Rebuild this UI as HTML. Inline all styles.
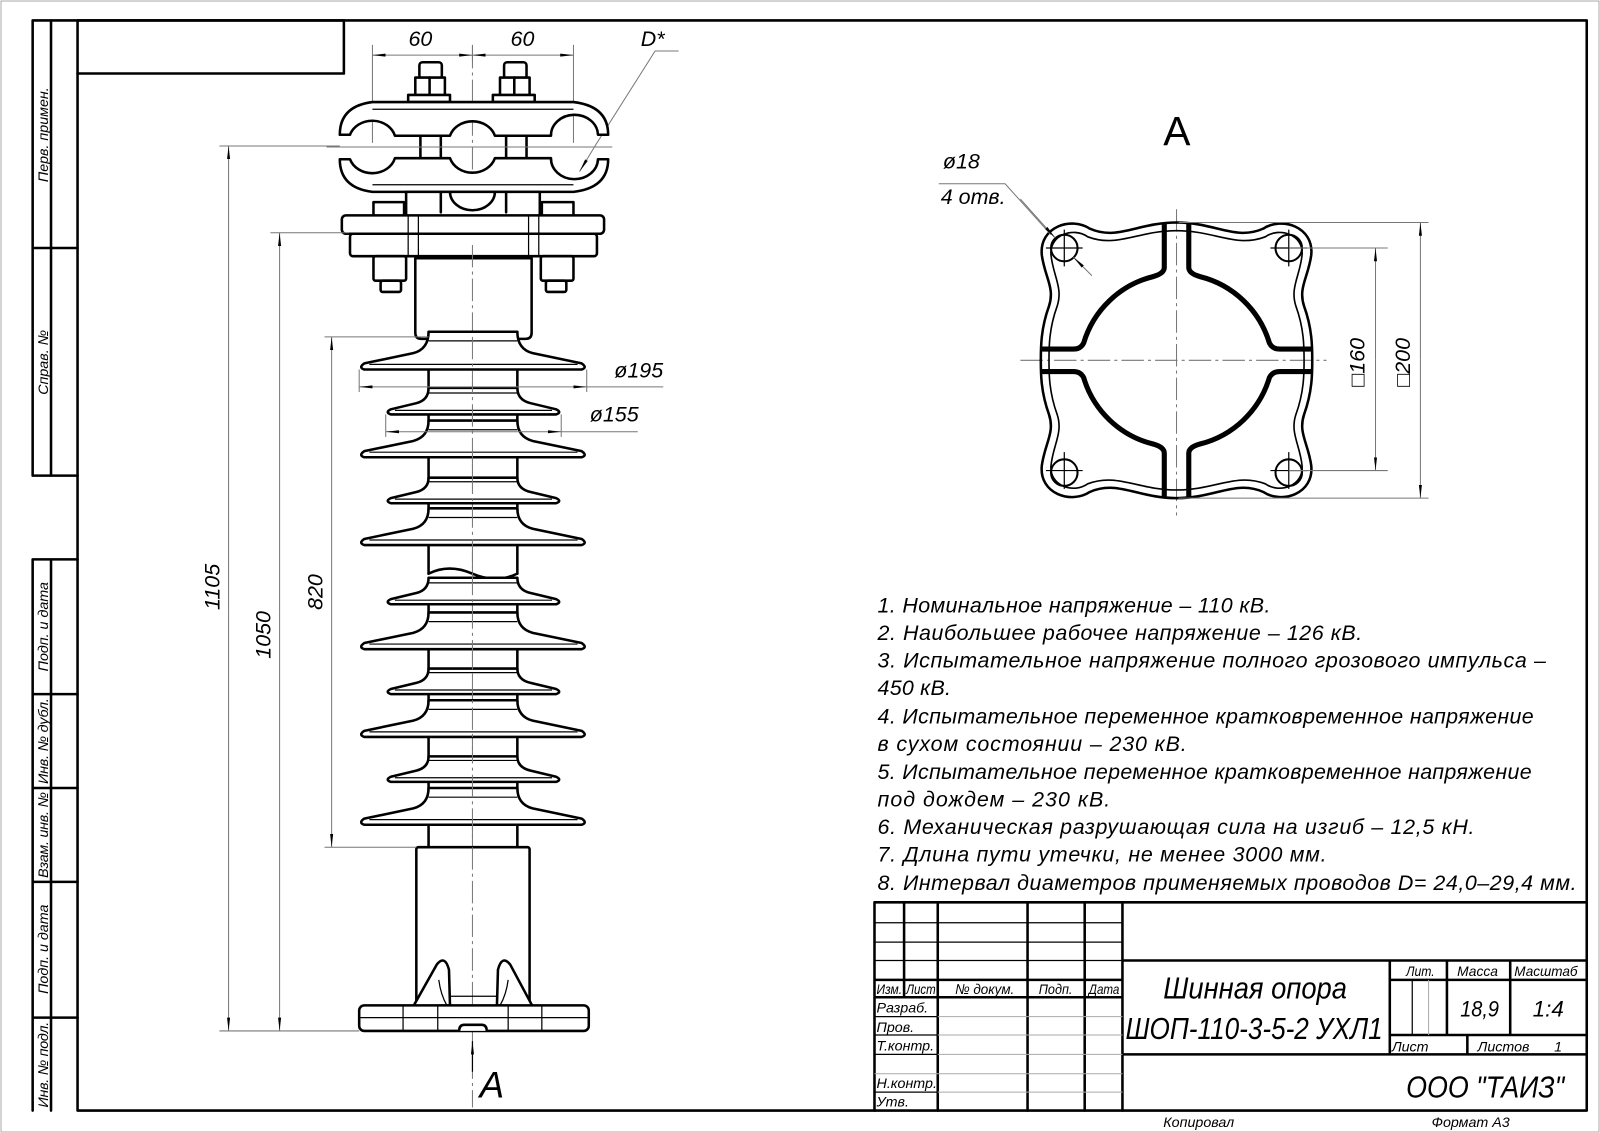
<!DOCTYPE html>
<html><head><meta charset="utf-8"><style>
html,body{margin:0;padding:0;background:#fff}
svg{display:block}
text{font-family:"Liberation Sans Narrow","Liberation Sans","DejaVu Sans",sans-serif;font-style:italic;fill:#000}
.k{stroke:#000;fill:none;stroke-width:2.5;stroke-linejoin:round;stroke-linecap:round}
.w{stroke:#000;fill:#fff;stroke-width:2.5;stroke-linejoin:round}
.t{stroke:#000;fill:none;stroke-width:1.2}
.d{stroke:#777;fill:none;stroke-width:1}
.c{stroke:#777;fill:none;stroke-width:1;stroke-dasharray:22 4 3 4}
.g{stroke:#aaa;fill:none;stroke-width:1}
.th{stroke:#000;fill:none;stroke-width:5;stroke-linejoin:round;stroke-linecap:round}
.tn{stroke:#000;fill:none;stroke-width:1.6;stroke-linejoin:round}
</style></head><body>
<svg width="1600" height="1133" viewBox="0 0 1568 1110" preserveAspectRatio="none" xmlns="http://www.w3.org/2000/svg">
<defs>
<marker id="a" markerWidth="14" markerHeight="6" refX="13" refY="3" orient="auto" markerUnits="userSpaceOnUse"><path d="M0,1.5 L13,3 L0,4.5Z" fill="#000"/></marker>
</defs>
<rect x="1" y="1" width="1566" height="1108" class="g"/>
<!-- frame -->
<path class="k" d="M76,20 H1555 V1088 H76 Z"/>
<path class="k" d="M76,20 H337 V72 H76"/>
<path class="k" d="M76,20 H32 V466 H76 M50,20 V466 M32,243 H76"/>
<path class="k" d="M76,548 H32 V1088 M50,548 V1088 M32,680 H76 M32,772 H76 M32,864 H76 M32,997 H76"/>
<g font-size="14">
<text transform="translate(47,132) rotate(-90)" text-anchor="middle">Перв. примен.</text>
<text transform="translate(47,355) rotate(-90)" text-anchor="middle">Справ. №</text>
<text transform="translate(47,614) rotate(-90)" text-anchor="middle">Подп. и дата</text>
<text transform="translate(47,726) rotate(-90)" text-anchor="middle" textLength="84">Инв. № дубл.</text>
<text transform="translate(47,818) rotate(-90)" text-anchor="middle" textLength="84">Взам. инв. №</text>
<text transform="translate(47,930) rotate(-90)" text-anchor="middle">Подп. и дата</text>
<text transform="translate(47,1043) rotate(-90)" text-anchor="middle" textLength="84">Инв. № подл.</text>
</g>

<!-- centre line -->
<line class="c" x1="463" y1="45" x2="463" y2="1085"/>
<!-- dims top -->
<path class="d" d="M365,44 V140 M463,44 V60 M562,44 V140"/>
<line class="d" x1="414" y1="54" x2="365" y2="54" marker-end="url(#a)"/>
<line class="d" x1="414" y1="54" x2="463" y2="54" marker-end="url(#a)"/>
<line class="d" x1="512" y1="54" x2="463" y2="54" marker-end="url(#a)"/>
<line class="d" x1="512" y1="54" x2="562" y2="54" marker-end="url(#a)"/>
<text x="412" y="45" font-size="21" text-anchor="middle">60</text>
<text x="512" y="45" font-size="21" text-anchor="middle">60</text>
<text x="628" y="45" font-size="21">D*</text>
<path class="d" d="M665,50 H642 L585,140"/>
<line class="d" x1="585" y1="140" x2="568" y2="168" marker-end="url(#a)"/>
<!-- nuts top -->
<g>
<rect class="w" x="411" y="61" width="22" height="16" rx="3"/>
<rect class="w" x="407" y="76" width="29" height="18"/><line class="k" x1="421" y1="76" x2="421" y2="94"/>
<rect class="w" x="400" y="93" width="41" height="7"/>
<rect class="w" x="494" y="61" width="22" height="16" rx="3"/>
<rect class="w" x="490" y="76" width="29" height="18"/><line class="k" x1="504" y1="76" x2="504" y2="94"/>
<rect class="w" x="483" y="93" width="41" height="7"/>
</g>
<!-- clamp upper -->
<path class="w" d="M365,100 H562 Q596,104 596,132 L586,132 A23,20 0 0 0 540,133 H485 A23,20 0 0 0 441,133 H387 A23,20 0 0 0 343,132 L333,132 Q333,104 365,100Z"/>
<line class="t" x1="365" y1="107" x2="562" y2="107"/>
<!-- clamp lower -->
<path class="w" d="M365,188 H562 Q596,184 596,156 L586,156 A23,20 0 0 1 540,155 H485 A23,20 0 0 1 441,155 H387 A23,20 0 0 1 343,156 L333,156 Q333,184 365,188Z"/>
<line class="t" x1="365" y1="181" x2="562" y2="181"/>
<rect class="w" x="412" y="133" width="20" height="22"/>
<rect class="w" x="496" y="133" width="20" height="22"/>
<line class="d" x1="320" y1="144" x2="600" y2="144"/>
<!-- under clamp -->
<rect class="w" x="398" y="188" width="131" height="24"/>
<path class="k" d="M441,188 A22,18 0 0 0 485,188"/>
<path class="k" d="M432,188 V208 M496,188 V208"/>
<rect class="w" x="366" y="198" width="30" height="14"/>
<rect class="w" x="531" y="198" width="31" height="14"/>
<rect class="w" x="335" y="211" width="257" height="18" rx="4"/>
<rect class="w" x="343" y="229" width="242" height="22" rx="3"/>
<path class="t" d="M400,211 V251 M410,211 V251 M518,211 V251 M528,211 V251"/>
<!-- nuts below -->
<rect class="w" x="366" y="251" width="32" height="24" rx="2"/>
<rect class="w" x="373" y="275" width="20" height="11" rx="2"/>
<rect class="w" x="530" y="251" width="32" height="24" rx="2"/>
<rect class="w" x="535" y="275" width="20" height="11" rx="2"/>
<path class="w" d="M407,253 H521 V326 Q521,332 515,332 H413 Q407,332 407,326Z"/>
<line class="c" x1="463" y1="240" x2="463" y2="340"/>
<!-- neck -->
<path class="k" d="M420,332 V562 M507,332 V562 M420,578 V830 M507,578 V830"/>
<path class="k" d="M420,562 Q440,552 463,562 T507,562 M420,578 Q440,568 463,578 T507,578"/>
<!-- sheds -->
<g>
<path class="w" d="M420,325 Q420,342 405,346 L357,356 Q351,360 357,362 L570,362 Q576,360 570,356 L522,346 Q507,342 507,325Z"/><line class="t" x1="362" y1="357" x2="566" y2="357"/><line class="t" x1="420" y1="334" x2="507" y2="334"/>
<path class="w" d="M420,380 Q420,392 408,395 L383,401 Q377,404 383,406 L545,406 Q551,404 545,401 L520,395 Q507,392 507,380Z"/><line class="t" x1="387" y1="402" x2="541" y2="402"/><line class="t" x1="420" y1="385" x2="507" y2="385"/>
<path class="w" d="M420,412 Q420,428 405,432 L357,442 Q351,446 357,448 L570,448 Q576,446 570,442 L522,432 Q507,428 507,412Z"/><line class="t" x1="362" y1="443" x2="566" y2="443"/><line class="t" x1="420" y1="421" x2="507" y2="421"/>
<path class="w" d="M420,468 Q420,479 408,482 L383,488 Q377,491 383,493 L545,493 Q551,491 545,488 L520,482 Q507,479 507,468Z"/><line class="t" x1="387" y1="489" x2="541" y2="489"/><line class="t" x1="420" y1="472" x2="507" y2="472"/>
<path class="w" d="M420,498 Q420,514 405,518 L357,528 Q351,532 357,534 L570,534 Q576,532 570,528 L522,518 Q507,514 507,498Z"/><line class="t" x1="362" y1="529" x2="566" y2="529"/><line class="t" x1="420" y1="507" x2="507" y2="507"/>
<path class="w" d="M420,566 Q420,578 408,581 L383,587 Q377,590 383,592 L545,592 Q551,590 545,587 L520,581 Q507,578 507,566Z"/><line class="t" x1="387" y1="588" x2="541" y2="588"/><line class="t" x1="420" y1="571" x2="507" y2="571"/>
<path class="w" d="M420,600 Q420,616 405,620 L357,630 Q351,634 357,636 L570,636 Q576,634 570,630 L522,620 Q507,616 507,600Z"/><line class="t" x1="362" y1="631" x2="566" y2="631"/><line class="t" x1="420" y1="609" x2="507" y2="609"/>
<path class="w" d="M420,655 Q420,666 408,669 L383,675 Q377,678 383,680 L545,680 Q551,678 545,675 L520,669 Q507,666 507,655Z"/><line class="t" x1="387" y1="676" x2="541" y2="676"/><line class="t" x1="420" y1="659" x2="507" y2="659"/>
<path class="w" d="M420,686 Q420,702 405,706 L357,716 Q351,720 357,722 L570,722 Q576,720 570,716 L522,706 Q507,702 507,686Z"/><line class="t" x1="362" y1="717" x2="566" y2="717"/><line class="t" x1="420" y1="695" x2="507" y2="695"/>
<path class="w" d="M420,741 Q420,752 408,755 L383,761 Q377,764 383,766 L545,766 Q551,764 545,761 L520,755 Q507,752 507,741Z"/><line class="t" x1="387" y1="762" x2="541" y2="762"/><line class="t" x1="420" y1="745" x2="507" y2="745"/>
<path class="w" d="M420,772 Q420,788 405,792 L357,802 Q351,806 357,808 L570,808 Q576,806 570,802 L522,792 Q507,788 507,772Z"/><line class="t" x1="362" y1="803" x2="566" y2="803"/><line class="t" x1="420" y1="781" x2="507" y2="781"/>
</g>
<line class="c" x1="463" y1="330" x2="463" y2="830"/>
<!-- bottom tube -->
<rect class="w" x="408" y="830" width="111" height="160" rx="2"/>
<line class="c" x1="463" y1="830" x2="463" y2="1010"/>
<path class="w" d="M405,986 L428,945 Q436,935 440,950 L441,985Z M522,986 L500,945 Q492,935 488,950 L487,985Z"/>
<path class="t" d="M440,976 H488 M430,960 Q432,975 438,985 M498,960 Q496,975 490,985"/>
<rect class="w" x="352" y="985" width="225" height="25" rx="5"/>
<path class="t" d="M395,985 V1010 M429,985 V1010 M498,985 V1010 M531,985 V1010 M352,997 H577"/>
<path class="w" d="M450,1010 Q450,1004 455,1004 H472 Q477,1004 477,1010"/>
<line class="t" x1="463" y1="1050" x2="463" y2="1020" marker-end="url(#a)"/>
<text x="470" y="1075" font-size="36">А</text>
<!-- vertical dims -->
<path class="d" d="M215,143 H333 M265,228 H342 M318,330 H420 M318,830 H408 M215,1010 H352"/>
<line class="d" x1="224" y1="600" x2="224" y2="143" marker-end="url(#a)"/>
<line class="d" x1="224" y1="600" x2="224" y2="1010" marker-end="url(#a)"/>
<line class="d" x1="274" y1="600" x2="274" y2="228" marker-end="url(#a)"/>
<line class="d" x1="274" y1="600" x2="274" y2="1010" marker-end="url(#a)"/>
<line class="d" x1="325" y1="600" x2="325" y2="330" marker-end="url(#a)"/>
<line class="d" x1="325" y1="600" x2="325" y2="830" marker-end="url(#a)"/>
<text transform="translate(215,575) rotate(-90)" font-size="21" text-anchor="middle">1105</text>
<text transform="translate(265,622) rotate(-90)" font-size="21" text-anchor="middle">1050</text>
<text transform="translate(316,580) rotate(-90)" font-size="21" text-anchor="middle">820</text>
<!-- diameters -->
<path class="d" d="M352,362 V384 M575,362 V384 M378,406 V428 M550,406 V428"/>
<line class="d" x1="463" y1="379" x2="352" y2="379" marker-end="url(#a)"/>
<line class="d" x1="463" y1="379" x2="575" y2="379" marker-end="url(#a)"/>
<line class="d" x1="575" y1="379" x2="650" y2="379"/>
<line class="d" x1="463" y1="423" x2="378" y2="423" marker-end="url(#a)"/>
<line class="d" x1="463" y1="423" x2="550" y2="423" marker-end="url(#a)"/>
<line class="d" x1="550" y1="423" x2="625" y2="423"/>
<text x="602" y="370" font-size="21">ø195</text>
<text x="578" y="413" font-size="21">ø155</text>

<!-- View A -->
<text x="1140" y="142" font-size="40" style="font-style:normal">А</text>
<line class="c" x1="1153" y1="205" x2="1153" y2="505"/>
<line class="c" x1="1000" y1="353" x2="1300" y2="353"/>
<g id="q">
<path class="k" d="M1153,218 C1115,218 1095,236 1068,224 C1050,212 1018,222 1021,250 C1024,272 1034,282 1028,300 C1020,322 1020,340 1020,353"/>
<path class="tn" d="M1153,226 C1115,226 1095,243 1066,232 C1052,222 1028,230 1030,250 C1032,270 1042,282 1036,300 C1028,322 1028,340 1028,353"/>
<path class="th" d="M1165,220 V262 Q1165,268 1176,271 A95,95 0 0 1 1244,336 Q1247,342 1254,342 H1284"/>
<circle class="k" cx="1043" cy="243" r="13" style="stroke-width:2"/>
</g>
<use href="#q" transform="translate(2306,0) scale(-1,1)"/>
<use href="#q" transform="translate(0,706) scale(1,-1)"/>
<use href="#q" transform="translate(2306,706) scale(-1,-1)"/>
<path class="t" d="M1025,243 H1061 M1043,225 V261 M1245,243 H1281 M1263,225 V261 M1025,461 H1061 M1043,443 V479 M1245,461 H1281 M1263,443 V479"/>
<path class="d" d="M1263,243 H1360 M1263,461 H1360 M1155,218 H1400 M1155,488 H1400"/>
<line class="d" x1="1348" y1="352" x2="1348" y2="243" marker-end="url(#a)"/>
<line class="d" x1="1348" y1="352" x2="1348" y2="461" marker-end="url(#a)"/>
<line class="d" x1="1392" y1="352" x2="1392" y2="218" marker-end="url(#a)"/>
<line class="d" x1="1392" y1="352" x2="1392" y2="488" marker-end="url(#a)"/>
<text transform="translate(1337,355) rotate(-90)" font-size="21" text-anchor="middle">□160</text>
<text transform="translate(1382,355) rotate(-90)" font-size="21" text-anchor="middle">□200</text>
<text x="924" y="165" font-size="21">ø18</text>
<text x="922" y="200" font-size="21">4 отв.</text>
<path class="d" d="M920,180 H985 L1030,230"/>
<line class="d" x1="1000" y1="195" x2="1034" y2="233" marker-end="url(#a)"/>
<line class="d" x1="1070" y1="270" x2="1052" y2="252" marker-end="url(#a)"/>

<!-- notes -->
<g font-size="21">
<text x="860" y="600" textLength="385">1. Номинальное напряжение – 110 кВ.</text>
<text x="860" y="627" textLength="475">2. Наибольшее рабочее напряжение – 126 кВ.</text>
<text x="860" y="654" textLength="655">3. Испытательное напряжение полного грозового импульса –</text>
<text x="860" y="681" textLength="72">450 кВ.</text>
<text x="860" y="709" textLength="643">4. Испытательное переменное кратковременное напряжение</text>
<text x="860" y="736" textLength="303">в сухом состоянии – 230 кВ.</text>
<text x="860" y="763" textLength="641">5. Испытательное переменное кратковременное напряжение</text>
<text x="860" y="790" textLength="228">под дождем – 230 кВ.</text>
<text x="860" y="817" textLength="585">6. Механическая разрушающая сила на изгиб – 12,5 кН.</text>
<text x="860" y="844" textLength="440">7. Длина пути утечки, не менее 3000 мм.</text>
<text x="860" y="872" textLength="685">8. Интервал диаметров применяемых проводов D= 24,0–29,4 мм.</text>
</g>

<!-- title block -->
<path class="k" d="M857,884 H1555 M857,884 V1088 M886,884 V977 M919,884 V1088 M1007,884 V1088 M1063,884 V1088 M1100,884 V1088 M857,960 H1100 M857,977 H1100 M1100,941 H1555 M1362,941 V1033 M1418,941 V1014 M1480,941 V1014 M1362,960 H1555 M1362,1014 H1555 M1100,1033 H1555 M1438,1014 V1033"/>
<path class="t" d="M857,904 H1100 M857,923 H1100 M857,941 H1100 M857,996 H919 M857,1014 H919 M857,1033 H919 M857,1070 H919 M1384,960 V1014"/>
<path class="g" d="M857,1052 H1100 M919,996 H1100 M919,1014 H1100 M919,1033 H1100 M919,1070 H1100 M1400,960 V1014"/>
<g font-size="14">
<text x="859" y="974" textLength="25" lengthAdjust="spacingAndGlyphs">Изм.</text>
<text x="888" y="974" textLength="29" lengthAdjust="spacingAndGlyphs">Лист</text>
<text x="936" y="974" textLength="58" lengthAdjust="spacingAndGlyphs">№ докум.</text>
<text x="1018" y="974" textLength="33" lengthAdjust="spacingAndGlyphs">Подп.</text>
<text x="1067" y="974" textLength="30" lengthAdjust="spacingAndGlyphs">Дата</text>
<text x="859" y="992">Разраб.</text>
<text x="859" y="1011">Пров.</text>
<text x="859" y="1029">Т.контр.</text>
<text x="859" y="1066">Н.контр.</text>
<text x="859" y="1084">Утв.</text>
<text x="1378" y="956" textLength="28" lengthAdjust="spacingAndGlyphs">Лит.</text>
<text x="1428" y="956" textLength="40" lengthAdjust="spacingAndGlyphs">Масса</text>
<text x="1484" y="956" textLength="62" lengthAdjust="spacingAndGlyphs">Масштаб</text>
<text x="1364" y="1030">Лист</text>
<text x="1448" y="1030">Листов</text>
<text x="1523" y="1030">1</text>
<text x="1140" y="1104" font-size="14">Копировал</text>
<text x="1403" y="1104" font-size="14">Формат   А3</text>
</g>
<text x="1431" y="996" font-size="22" textLength="38" lengthAdjust="spacingAndGlyphs">18,9</text>
<text x="1502" y="996" font-size="22">1:4</text>
<text x="1140" y="978" font-size="30" textLength="180" lengthAdjust="spacingAndGlyphs">Шинная опора</text>
<text x="1103" y="1018" font-size="30" textLength="252" lengthAdjust="spacingAndGlyphs">ШОП-110-3-5-2 УХЛ1</text>
<text x="1378" y="1075" font-size="30" textLength="155" lengthAdjust="spacingAndGlyphs">ООО "ТАИЗ"</text>
</svg>
</body></html>
